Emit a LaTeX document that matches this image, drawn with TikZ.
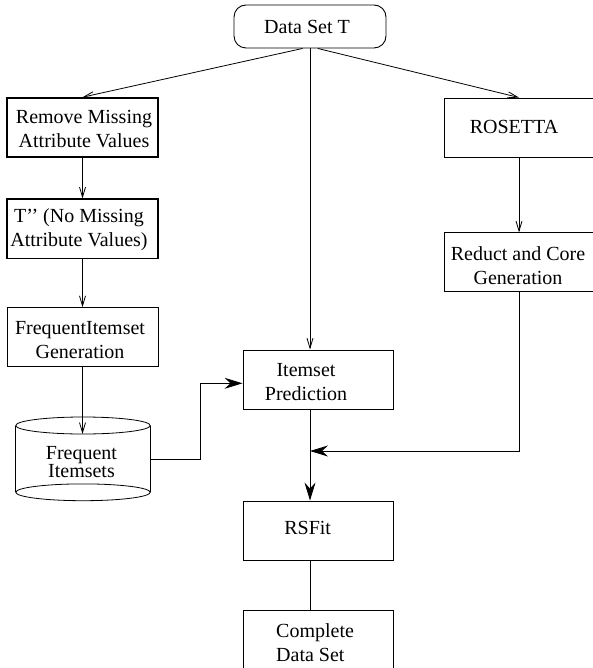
\documentclass[tikz,border=0pt]{standalone}
\usepackage{fontspec}
\setmainfont{Liberation Serif}
\usetikzlibrary{arrows.meta,calc}
\tikzset{
  pbox/.style={draw, line width=0.9pt, minimum width=151pt, minimum height=59pt, inner sep=0pt},
  tbox/.style={pbox, line width=1.6pt},
  txt/.style={align=center, inner sep=0pt, font=\fontsize{20}{24}\selectfont},
  conn/.style={line width=0.8pt},
  thinarrow/.style={conn, -{Straight Barb[length=10pt,width=6pt]}},
  bigarrow/.style={line width=0.9pt, -{Stealth[length=18pt,width=11pt,inset=6pt]}}
}
\begin{document}
\begin{tikzpicture}[x=1pt,y=-1pt]
\useasboundingbox (0,0) rectangle (593,668);
% boxes
\node[draw, line width=0.9pt, rounded corners=12pt, minimum width=152pt, minimum height=43pt, inner sep=0pt] (dst) at (310,26.5) {};
\node[tbox] (rm) at (82.5,127.5) {};
\node[pbox, minimum width=150pt] (ros) at (519,127.5) {};
\node[tbox] (tpp) at (82.5,228.8) {};
\node[pbox, minimum width=150pt, minimum height=58.3pt] (rc) at (519,262) {};
\node[pbox] (fig) at (82.5,337.2) {};
\node[pbox, minimum width=150pt] (ip) at (318,379.5) {};
\node[pbox, minimum width=150pt] (rsf) at (318,530.5) {};
\node[pbox, minimum width=150pt] (cds) at (318,640.2) {};
% cylinder
\node[minimum width=134.4pt, minimum height=84pt, inner sep=0pt] (fi) at (83,459) {};
\draw[line width=0.8pt] (83,425.5) ellipse [x radius=67.2pt, y radius=8.5pt];
\draw[line width=0.8pt] (83,492.3) ellipse [x radius=67.2pt, y radius=8.4pt];
\draw[line width=0.8pt] (15.8,425.5) -- (15.8,492.3);
\draw[line width=0.8pt] (150.2,425.5) -- (150.2,492.3);
\coordinate (fitop) at (82.5,434);
% texts
\node[txt] (tdst) at (307,27) {Data Set T};
\node[txt] (trm) at (84,129.5) {Remove Missing\\Attribute Values};
\node[txt] (tros) at (514,127) {ROSETTA};
\node[txt] (ttpp) at (79,229.5) {T’’ (No Missing\\Attribute Values)};
\node[txt] (trc) at (518,265.5) {Reduct and Core\\Generation};
\node[txt] (tfig) at (80,340.5) {FrequentItemset\\Generation};
\node[txt] (tip) at (306,382.5) {Itemset\\Prediction};
\node[txt] (trsf) at (307.7,528) {RSFit};
\node[txt, align=left, anchor=west] (tcds) at (276,642.5) {Complete\\Data Set};
\node[align=center, inner sep=0pt, font=\fontsize{20}{17}\selectfont] (tfi) at (81.5,462) {Frequent\\Itemsets};
% connectors
\coordinate (j) at (310,451);
\draw[thinarrow] ($(dst.south)+(-7.4,0)$) -- (rm.north);
\draw[thinarrow] ($(dst.south)+(7.7,0)$) -- (ros.north);
\draw[thinarrow] (dst.south) -- (dst.south |- ip.north);
\draw[thinarrow] (rm.south) -- (tpp.north);
\draw[thinarrow] (tpp.south) -- (fig.north);
\draw[thinarrow] (fig.south) -- (fitop);
\draw[thinarrow] (ros.south) -- (rc.north);
\draw[bigarrow] (rc.south) |- (j);
\draw[bigarrow] (fi.east) -- ++(50,0) |- ($(ip.west)+(0,3.8)$);
\draw[bigarrow] (j |- ip.south) -- (j |- rsf.north);
\draw[conn] (j |- rsf.south) -- (j |- cds.north);
\end{tikzpicture}
\end{document}
